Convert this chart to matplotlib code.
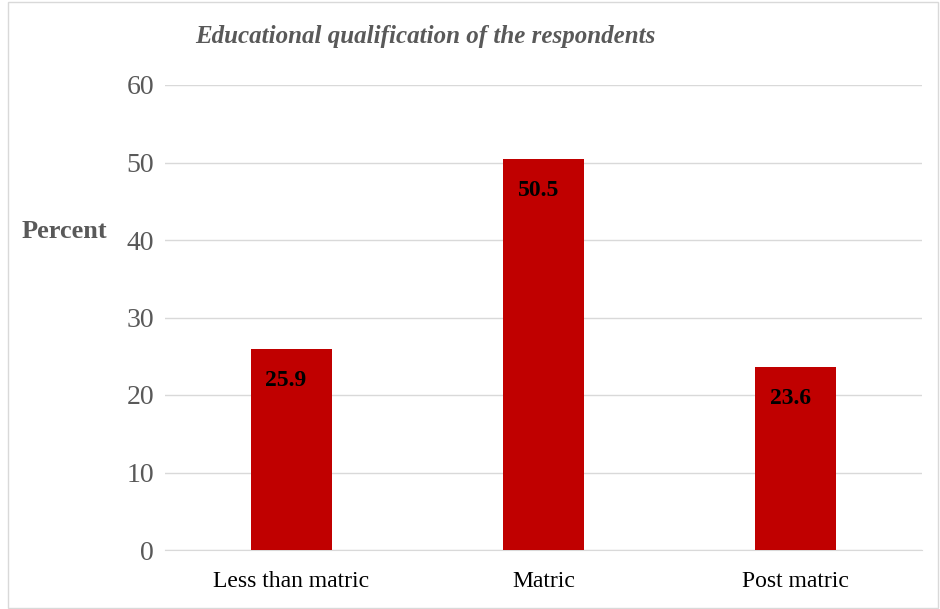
import matplotlib.pyplot as plt
from matplotlib.patches import Rectangle

categories = ["Less than matric", "Matric", "Post matric"]
percent = [25.9, 50.5, 23.6]
yticks = [0, 10, 20, 30, 40, 50, 60]

plt.rcParams['font.family'] = ['Liberation Serif', 'DejaVu Serif']

fig = plt.figure(figsize=(9.4, 6.09), dpi=100)
ax = fig.add_axes([165/940, 1 - 550/609, (922-165)/940, (550-85)/609])

x = range(len(categories))
bars = ax.bar(x, percent, width=0.32, color="#C00000", zorder=3)

for b, v in zip(bars, percent):
    ax.text(b.get_x() + b.get_width()/2 - 0.02, v - 2.7, "{:.1f}".format(v),
            ha="center", va="top", fontsize=17, fontweight="bold", color="black", zorder=4)

ax.set_xlim(-0.5, 2.5)
ax.set_ylim(0, 60)
ax.set_yticks(yticks)
ax.set_xticks(list(x))
ax.set_xticklabels(categories, fontsize=17, color="#000000")
ax.tick_params(axis="y", labelsize=20, colors="#595959", length=0, pad=8)
ax.tick_params(axis="x", length=0, pad=15)
ax.yaxis.grid(True, color="#D9D9D9", linewidth=1, zorder=0)
for s in ["top", "right", "left"]:
    ax.spines[s].set_visible(False)
ax.spines["bottom"].set_color("#D9D9D9")

fig.text(425/940, 1 - 36/609, "Educational qualification of the respondents",
         ha="center", va="center", fontsize=18, fontweight="bold", fontstyle="italic", color="#595959")
fig.text(64/940, 1 - 232/609, "Percent", ha="center", va="center",
         fontsize=19, fontweight="bold", color="#595959")

fig.patches.append(Rectangle((8/940, 0.002), 930/940, 0.995, transform=fig.transFigure,
                             fill=False, edgecolor="#D9D9D9", linewidth=1))

fig.savefig("out.png", dpi=100)
